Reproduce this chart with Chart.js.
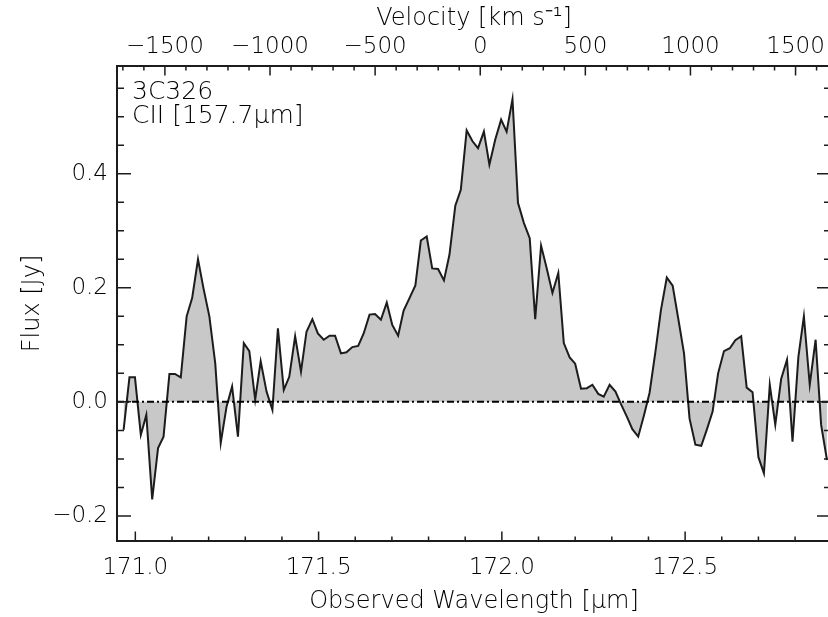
<!DOCTYPE html>
<html>
<head>
<meta charset="utf-8">
<script src="https://cdn.jsdelivr.net/npm/chart.js@4/dist/chart.umd.min.js"></script>
<style>
html, body { margin: 0; padding: 0; background: #fff; overflow: hidden; }
#wrap { position: relative; width: 831px; height: 617px; }
</style>
</head>
<body>
<div id="wrap"><canvas id="spec"></canvas></div>
<script>
// observed wavelength of each channel [micron]
const wavelength = [
    170.968, 170.984, 170.999, 171.015, 171.030, 171.046, 171.062, 171.077, 171.093, 171.108,
    171.124, 171.140, 171.155, 171.171, 171.186, 171.202, 171.218, 171.233, 171.249, 171.264,
    171.280, 171.296, 171.311, 171.327, 171.342, 171.358, 171.374, 171.389, 171.405, 171.420,
    171.436, 171.452, 171.467, 171.483, 171.498, 171.514, 171.530, 171.545, 171.561, 171.576,
    171.592, 171.608, 171.623, 171.639, 171.654, 171.670, 171.686, 171.701, 171.717, 171.732,
    171.748, 171.764, 171.779, 171.795, 171.810, 171.826, 171.842, 171.857, 171.873, 171.888,
    171.904, 171.920, 171.935, 171.951, 171.966, 171.982, 171.998, 172.013, 172.029, 172.044,
    172.060, 172.076, 172.091, 172.107, 172.122, 172.138, 172.154, 172.169, 172.185, 172.200,
    172.216, 172.232, 172.247, 172.263, 172.278, 172.294, 172.310, 172.325, 172.341, 172.356,
    172.372, 172.388, 172.403, 172.419, 172.434, 172.450, 172.466, 172.481, 172.497, 172.512,
    172.528, 172.544, 172.559, 172.575, 172.590, 172.606, 172.622, 172.637, 172.653, 172.668,
    172.684, 172.700, 172.715, 172.731, 172.746, 172.762, 172.778, 172.793, 172.809, 172.824,
    172.840, 172.856, 172.871, 172.887
]

// flux density [Jy]
const flux = [
    -0.049, 0.043, 0.043, -0.058, -0.023, -0.171, -0.081, -0.061, 0.049, 0.049,
    0.043, 0.150, 0.182, 0.250, 0.199, 0.150, 0.068, -0.072, -0.008, 0.027,
    -0.061, 0.103, 0.089, 0.004, 0.071, 0.018, -0.014, 0.129, 0.021, 0.044,
    0.115, 0.053, 0.123, 0.145, 0.120, 0.109, 0.116, 0.116, 0.085, 0.087,
    0.096, 0.098, 0.120, 0.153, 0.154, 0.144, 0.174, 0.135, 0.116, 0.160,
    0.182, 0.204, 0.283, 0.290, 0.234, 0.233, 0.213, 0.258, 0.344, 0.372,
    0.476, 0.457, 0.445, 0.474, 0.416, 0.460, 0.495, 0.474, 0.531, 0.349,
    0.314, 0.287, 0.145, 0.274, 0.235, 0.191, 0.226, 0.103, 0.078, 0.067,
    0.023, 0.024, 0.030, 0.014, 0.009, 0.030, 0.018, -0.004, -0.026, -0.048,
    -0.061, -0.023, 0.016, 0.088, 0.161, 0.218, 0.204, 0.147, 0.085, -0.029,
    -0.075, -0.077, -0.049, -0.017, 0.050, 0.089, 0.094, 0.108, 0.115, 0.025,
    0.017, -0.097, -0.125, 0.030, -0.040, 0.040, 0.074, -0.070, 0.079, 0.150,
    0.030, 0.109, -0.040, -0.102
]

// labelled (major) ticks
const wavelengthTicks = [171.0, 171.5, 172.0, 172.5]
const velocityTicks = [-1500, -1000, -500, 0, 500, 1000, 1500]
const fluxTicks = [-0.2, 0.0, 0.2, 0.4]

const sourceName = '3C326'
const lineName = 'CII [157.7\u03bcm]'

const C_KMS = 299792.458
const lineCentre = 171.941   // observed wavelength at v = 0
const xMin = 170.95
const xMax = 172.898
const yMin = -0.244
const yMax = 0.589

const toVelocity = w => C_KMS * (w / lineCentre - 1)
const vMin = toVelocity(xMin)
const vMax = toVelocity(xMax)

const FONT = 'DejaVu Sans'
const INK = '#000'

function isOn(v, list) {
    return list.some(t => Math.abs(t - v) < 1e-6)
}

function minus(s) {
    return s.replace('-', '\u2212')
}

// IDL style box: frame, inward ticks on all four sides, corner label
const frameAndTicks = {
    id: 'frameAndTicks',
    afterDatasetsDraw(chart) {
        const { ctx, chartArea: a } = chart
        const { x, x2, y } = chart.scales

        ctx.save()
        ctx.strokeStyle = '#1c1c1c'
        ctx.lineWidth = 1.5
        ctx.beginPath()

        x.ticks.forEach(t => {
            const p = x.getPixelForValue(t.value)
            const len = isOn(t.value, wavelengthTicks) ? 9.5 : 4.5
            ctx.moveTo(p, a.bottom)
            ctx.lineTo(p, a.bottom - len)
        })

        x2.ticks.forEach(t => {
            const p = x2.getPixelForValue(t.value)
            const len = isOn(t.value, velocityTicks) ? 9.5 : 4.5
            ctx.moveTo(p, a.top)
            ctx.lineTo(p, a.top + len)
        })

        y.ticks.forEach(t => {
            const p = y.getPixelForValue(t.value)
            const len = isOn(t.value, fluxTicks) ? 14 : 7
            ctx.moveTo(a.left, p)
            ctx.lineTo(a.left + len, p)
            ctx.moveTo(a.right, p)
            ctx.lineTo(a.right - len, p)
        })
        ctx.stroke()

        ctx.lineWidth = 2
        ctx.strokeRect(a.left, a.top, a.right - a.left, a.bottom - a.top)

        ctx.fillStyle = INK
        ctx.font = '200 25px "' + FONT + '"'
        ctx.textBaseline = 'alphabetic'
        ctx.textAlign = 'left'
        ctx.fillText(sourceName, a.left + 15, a.top + 33)
        ctx.fillText(lineName, a.left + 15, a.top + 57)
        ctx.restore()
    }
}

const tickFont = { family: FONT, size: 23, weight: 200 }
const titleFont = { family: FONT, size: 24, weight: 200 }

new Chart(document.getElementById('spec'), {
    type: 'line',
    data: {
        datasets: [
            {
                label: 'zero',
                data: [{ x: xMin, y: 0 }, { x: xMax, y: 0 }],
                borderColor: '#000',
                borderWidth: 2,
                borderDash: [7, 3, 2, 3],
                pointRadius: 0,
                fill: false,
                order: 0
            },
            {
                label: 'flux',
                data: wavelength.map((w, i) => ({ x: w, y: flux[i] })),
                borderColor: '#1c1c1c',
                borderWidth: 2,
                backgroundColor: 'rgb(200,200,200)',
                fill: 'origin',
                pointRadius: 0,
                tension: 0,
                order: 1
            }
        ]
    },
    options: {
        responsive: true,
        maintainAspectRatio: false,
        animation: false,
        layout: { padding: 0 },
        plugins: {
            legend: { display: false },
            tooltip: { enabled: false }
        },
        scales: {
            x: {
                type: 'linear',
                position: 'bottom',
                min: xMin,
                max: xMax,
                afterFit: s => { s.height = 76 },
                grid: { display: false, drawTicks: false },
                border: { display: false },
                ticks: {
                    stepSize: 0.1,
                    includeBounds: false,
                    autoSkip: false,
                    maxRotation: 0,
                    padding: 13,
                    color: INK,
                    font: tickFont,
                    callback: v => isOn(v, wavelengthTicks) ? v.toFixed(1) : ''
                },
                title: {
                    display: true,
                    text: 'Observed Wavelength [\u03bcm]',
                    color: INK,
                    font: titleFont,
                    padding: { top: 0, bottom: 1 }
                }
            },
            x2: {
                type: 'linear',
                position: 'top',
                min: vMin,
                max: vMax,
                afterFit: s => { s.height = 66 },
                // minor marks every 100 km/s across the box
                afterBuildTicks: s => {
                    const marks = []
                    for (let v = Math.ceil(vMin / 100) * 100; v <= vMax; v += 100) {
                        marks.push({ value: v })
                    }
                    s.ticks = marks
                },
                grid: { display: false, drawTicks: false },
                border: { display: false },
                ticks: {
                    autoSkip: false,
                    maxRotation: 0,
                    padding: 5,
                    color: INK,
                    font: tickFont,
                    callback: v => isOn(v, velocityTicks) ? minus(String(v)) : ''
                },
                title: {
                    display: true,
                    text: 'Velocity [km s\u207b\u00b9]',
                    color: INK,
                    font: titleFont,
                    padding: { top: 4, bottom: 0 }
                }
            },
            y: {
                type: 'linear',
                position: 'left',
                min: yMin,
                max: yMax,
                afterFit: s => { s.width = 117 },
                grid: { display: false, drawTicks: false },
                border: { display: false },
                ticks: {
                    stepSize: 0.05,
                    includeBounds: false,
                    autoSkip: false,
                    padding: 9,
                    color: INK,
                    font: tickFont,
                    callback: v => isOn(v, fluxTicks) ? minus(v.toFixed(1)) : ''
                },
                title: {
                    display: true,
                    text: 'Flux [Jy]',
                    color: INK,
                    font: titleFont,
                    padding: { top: 18, bottom: 0 }
                }
            }
        }
    },
    plugins: [frameAndTicks]
})
</script>
</body>
</html>
